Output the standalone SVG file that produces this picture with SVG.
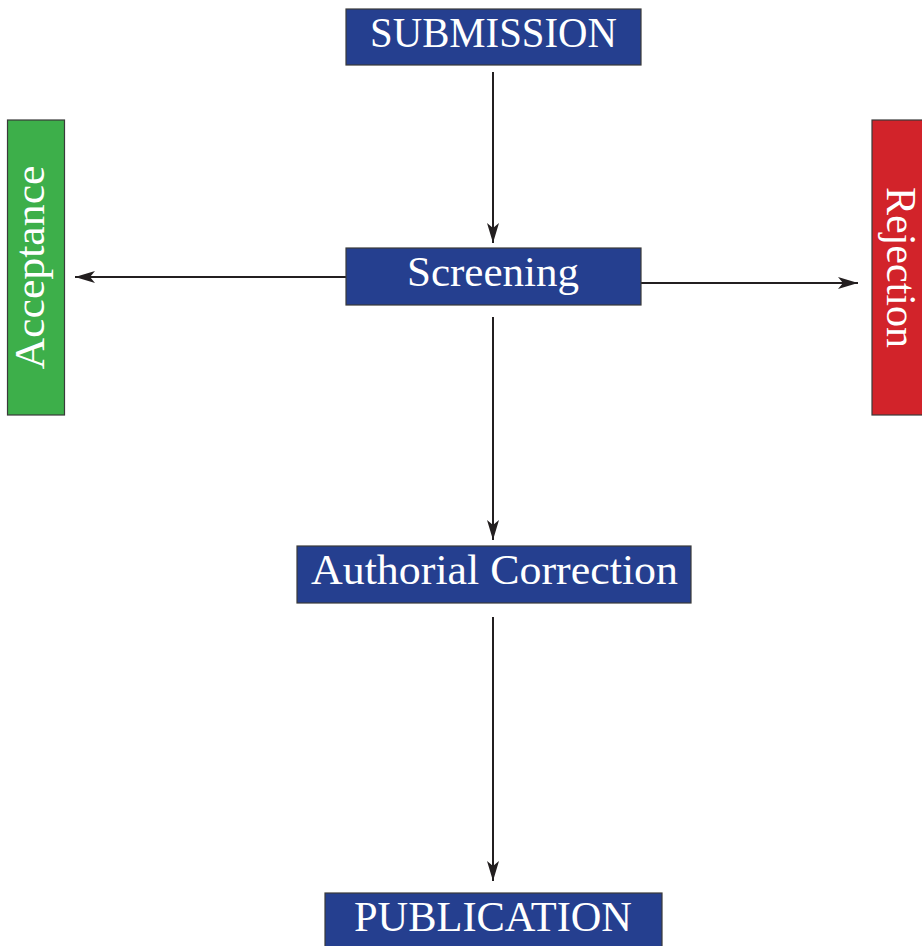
<svg xmlns="http://www.w3.org/2000/svg" width="922" height="946" viewBox="0 0 922 946">
<style>
.box{stroke:#3a3a3a;stroke-width:1.2}
.blue{fill:#253f8f}
.green{fill:#3daf4a}
.red{fill:#d2232a}
.t{font-family:"Liberation Serif","DejaVu Serif",serif;fill:#ffffff;font-size:42px}
.c{stroke:#231f20;stroke-width:2;fill:none;marker-end:url(#ah)}
</style>
<defs>
<marker id="ah" viewBox="0 0 20 12" refX="20" refY="6" markerWidth="20" markerHeight="12" markerUnits="userSpaceOnUse" orient="auto">
<path d="M0,0 L20,6 L0,12 L5,6 Z" fill="#231f20"/>
</marker>
</defs>
<rect width="922" height="946" fill="#ffffff"/>
<g id="connectors">
<line class="c" x1="493" y1="72" x2="493" y2="243"/>
<line class="c" x1="346" y1="277" x2="75" y2="277"/>
<line class="c" x1="641" y1="283" x2="858" y2="283"/>
<line class="c" x1="493" y1="317" x2="493" y2="540"/>
<line class="c" x1="493" y1="617" x2="493" y2="881"/>
</g>
<g id="submission">
<rect class="box blue" x="346" y="9" width="295" height="56"/>
<text class="t" x="493.5" y="46.5" text-anchor="middle" textLength="247" lengthAdjust="spacingAndGlyphs">SUBMISSION</text>
</g>
<g id="screening">
<rect class="box blue" x="346" y="248" width="295" height="57"/>
<text class="t" x="493" y="286" text-anchor="middle" textLength="172" lengthAdjust="spacingAndGlyphs">Screening</text>
</g>
<g id="acceptance">
<rect class="box green" x="7.5" y="120" width="57" height="295"/>
<text class="t" transform="translate(44,267.5) rotate(-90)" text-anchor="middle" textLength="204" lengthAdjust="spacingAndGlyphs">Acceptance</text>
</g>
<g id="rejection">
<rect class="box red" x="872" y="120" width="56" height="295"/>
<text class="t" transform="translate(887,267.5) rotate(90)" text-anchor="middle" textLength="161" lengthAdjust="spacingAndGlyphs">Rejection</text>
</g>
<g id="authorial">
<rect class="box blue" x="297" y="546" width="394" height="57"/>
<text class="t" x="494.5" y="584" text-anchor="middle" textLength="367" lengthAdjust="spacingAndGlyphs">Authorial Correction</text>
</g>
<g id="publication">
<rect class="box blue" x="325" y="893" width="337" height="60"/>
<text class="t" x="493" y="931" text-anchor="middle" textLength="278" lengthAdjust="spacingAndGlyphs">PUBLICATION</text>
</g>
</svg>
